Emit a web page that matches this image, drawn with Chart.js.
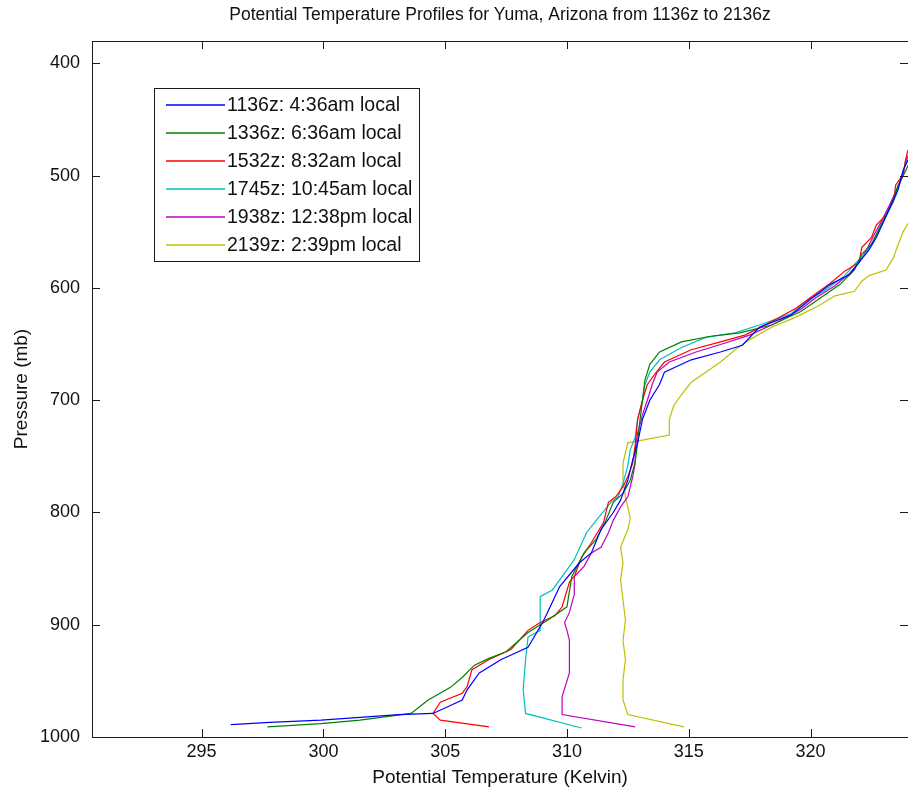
<!DOCTYPE html>
<html>
<head>
<meta charset="utf-8">
<title>Potential Temperature Profiles - Yuma</title>
<script src="https://cdn.jsdelivr.net/npm/chart.js@4.4.1/dist/chart.umd.min.js"></script>
<style>
    html, body { margin: 0; padding: 0; background: #ffffff; }
    #wrap { width: 908px; height: 792px; }
</style>
</head>
<body>
<div id="wrap"><canvas id="profileChart" width="908" height="792"></canvas></div>
<script>
// Soundings: potential temperature (K) vs pressure (mb), surface first
const seriesLabels = [
    '1136z: 4:36am local',
    '1336z: 6:36am local',
    '1532z: 8:32am local',
    '1745z: 10:45am local',
    '1938z: 12:38pm local',
    '2139z: 2:39pm local'
];
const seriesColors = ['#0000ff', '#008000', '#ff0000', '#00bfbf', '#bf00bf', '#bfbf00'];

const theta1136 = [296.2, 297.8, 299.9, 303.1, 304.5, 305.7, 305.9, 306.4, 307.3, 308.4, 309.0, 309.2, 309.7, 310.5, 311.0, 311.4, 311.9, 312.2, 312.5, 312.7, 312.9, 313.1, 313.4, 313.8, 314.0, 315.1, 316.3, 317.2, 317.9, 319.2, 320.0, 320.8, 321.6, 322.0, 322.4, 322.7, 323.0, 323.3, 323.6, 323.8, 324.0];
const pres1136  = [989, 987, 985, 980, 979, 967, 958, 943, 931, 920, 898, 889, 866, 845, 836, 815, 800, 789, 771, 753, 738, 717, 700, 686, 675, 664, 657, 651, 635, 624, 610, 597, 588, 577, 566, 555, 541, 526, 512, 495, 486];

const theta1336 = [297.7, 299.9, 301.5, 303.6, 304.3, 305.2, 305.7, 306.2, 306.8, 307.5, 308.4, 309.2, 310.0, 310.1, 310.2, 310.7, 311.2, 311.6, 311.9, 312.3, 312.6, 312.8, 312.9, 313.0, 313.1, 313.2, 313.4, 313.8, 314.7, 315.9, 317.1, 318.4, 319.6, 320.4, 321.2, 321.8, 322.1, 322.5, 322.8, 323.1, 323.4, 323.6, 323.9, 324.1];
const pres1336  = [991, 988, 985, 979, 967, 956, 947, 936, 930, 924, 907, 896, 884, 870, 857, 836, 824, 807, 791, 783, 771, 755, 738, 717, 700, 682, 668, 657, 648, 643, 640, 633, 621, 609, 597, 584, 570, 561, 548, 535, 521, 508, 496, 486];

const theta1532 = [306.8, 304.8, 304.5, 304.8, 305.7, 305.9, 306.1, 306.8, 307.7, 308.4, 308.9, 309.5, 309.8, 310.1, 310.3, 310.6, 311.0, 311.5, 311.7, 312.0, 312.3, 312.5, 312.7, 312.8, 312.9, 313.1, 313.3, 313.6, 314.0, 315.1, 316.3, 317.3, 318.4, 319.4, 320.1, 320.8, 321.4, 322.0, 322.1, 322.5, 322.7, 323.1, 323.4, 323.5, 323.8, 323.9, 324.0];
const pres1532  = [991, 985, 979, 969, 961, 955, 940, 931, 922, 905, 898, 892, 884, 862, 857, 840, 827, 809, 791, 786, 777, 768, 756, 740, 717, 700, 686, 677, 666, 655, 648, 642, 630, 618, 607, 596, 585, 577, 564, 555, 544, 535, 523, 508, 499, 486, 477];

const theta1745 = [310.6, 308.3, 308.2, 308.3, 308.4, 308.9, 308.9, 309.4, 309.7, 310.3, 310.8, 311.2, 311.8, 312.1, 312.3, 312.5, 312.6, 312.8, 312.9, 313.1, 313.2, 313.4, 313.8, 314.7, 315.7, 316.9, 317.9, 319.2, 319.8, 320.6, 321.4, 321.8, 322.3, 322.6, 322.9, 323.2, 323.5, 323.7, 323.9, 324.0];
const pres1745  = [992, 979, 958, 931, 911, 905, 875, 869, 860, 842, 818, 807, 791, 786, 774, 758, 744, 733, 717, 700, 686, 675, 664, 653, 644, 640, 633, 623, 612, 602, 589, 579, 568, 557, 544, 532, 518, 503, 490, 484];

const theta1938 = [312.8, 309.8, 309.8, 310.1, 310.1, 310.0, 309.9, 310.1, 310.3, 310.3, 310.7, 311.0, 311.4, 311.7, 311.9, 312.2, 312.5, 312.6, 312.7, 312.8, 312.8, 312.9, 313.1, 313.3, 313.5, 313.7, 314.2, 315.3, 316.5, 317.5, 318.6, 319.6, 320.2, 321.0, 321.6, 322.0, 322.3, 322.6, 322.9, 323.2, 323.5, 323.8, 323.9, 324.1];
const pres1938  = [991, 980, 964, 943, 914, 905, 898, 889, 873, 857, 848, 836, 831, 818, 807, 795, 786, 777, 768, 756, 744, 729, 713, 700, 686, 675, 666, 657, 649, 642, 631, 619, 609, 598, 587, 577, 566, 553, 541, 528, 514, 500, 487, 478];

const theta2139 = [314.8, 312.5, 312.3, 312.3, 312.4, 312.3, 312.4, 312.3, 312.2, 312.3, 312.2, 312.5, 312.6, 312.4, 312.3, 312.3, 312.5, 314.2, 314.2, 314.4, 314.7, 315.1, 315.7, 316.3, 316.9, 317.5, 318.4, 319.4, 320.4, 321.0, 321.8, 322.1, 322.4, 323.1, 323.4, 323.6, 323.8, 324.1];
const pres2139  = [991, 980, 967, 949, 931, 914, 896, 878, 860, 845, 831, 815, 805, 786, 771, 756, 738, 731, 717, 704, 695, 684, 675, 666, 655, 646, 635, 626, 615, 607, 603, 594, 589, 584, 573, 561, 550, 539];

const thetaSeries = [theta1136, theta1336, theta1532, theta1745, theta1938, theta2139];
const presSeries = [pres1136, pres1336, pres1532, pres1745, pres1938, pres2139];

const xTicks = [295, 300, 305, 310, 315, 320];
const yTicks = [400, 500, 600, 700, 800, 900, 1000];

const FONT = '"Liberation Sans", Arial, Helvetica, sans-serif';
const TICK_LEN = 8;

// MATLAB style box: frame, inward ticks on all four sides, boxed legend inside the axes
const matlabAxes = {
    id: 'matlabAxes',
    afterDraw(chart) {
        const { ctx, chartArea: a, scales: { x, y } } = chart;
        ctx.save();
        ctx.strokeStyle = '#1a1a1a';
        ctx.lineWidth = 1;
        ctx.strokeRect(a.left + 0.5, a.top + 0.5, a.right - a.left, a.bottom - a.top);

        ctx.beginPath();
        xTicks.forEach(v => {
            const px = Math.round(x.getPixelForValue(v)) + 0.5;
            ctx.moveTo(px, a.bottom); ctx.lineTo(px, a.bottom - TICK_LEN);
            ctx.moveTo(px, a.top); ctx.lineTo(px, a.top + TICK_LEN);
        });
        yTicks.forEach(v => {
            const py = Math.round(y.getPixelForValue(v)) + 0.5;
            ctx.moveTo(a.left, py); ctx.lineTo(a.left + TICK_LEN, py);
            ctx.moveTo(a.right, py); ctx.lineTo(a.right - TICK_LEN, py);
        });
        ctx.stroke();

        // legend
        const box = { left: 154, top: 88, right: 419, bottom: 261 };
        ctx.fillStyle = '#ffffff';
        ctx.fillRect(box.left, box.top, box.right - box.left, box.bottom - box.top);
        ctx.strokeStyle = '#1a1a1a';
        ctx.lineWidth = 1;
        ctx.strokeRect(box.left + 0.5, box.top + 0.5, box.right - box.left, box.bottom - box.top);
        ctx.font = '19.5px ' + FONT;
        ctx.textBaseline = 'middle';
        ctx.textAlign = 'left';
        seriesLabels.forEach((label, i) => {
            const rowY = 105 + i * 28;
            ctx.strokeStyle = seriesColors[i];
            ctx.lineWidth = 1.4;
            ctx.beginPath();
            ctx.moveTo(166, rowY);
            ctx.lineTo(225, rowY);
            ctx.stroke();
            ctx.fillStyle = '#111111';
            ctx.fillText(label, 227, rowY + 1);
        });
        ctx.restore();
    }
};

const datasets = seriesLabels.map((label, i) => ({
    label: label,
    data: thetaSeries[i].map((t, k) => ({ x: t, y: presSeries[i][k] })),
    borderColor: seriesColors[i],
    backgroundColor: seriesColors[i],
    borderWidth: 1.2,
    pointRadius: 0,
    tension: 0,
    fill: false
}));

new Chart(document.getElementById('profileChart'), {
    type: 'line',
    data: { datasets: datasets },
    options: {
        responsive: false,
        animation: false,
        devicePixelRatio: 1,
        layout: { padding: 0 },
        plugins: {
            legend: { display: false },
            tooltip: { enabled: false },
            title: {
                display: true,
                fullSize: false,
                text: 'Potential Temperature Profiles for Yuma, Arizona from 1136z to 2136z',
                color: '#111111',
                font: { family: FONT, size: 17.5, weight: 'normal' },
                padding: { top: 5, bottom: 15 }
            }
        },
        scales: {
            x: {
                type: 'linear',
                position: 'bottom',
                min: 290.5,
                max: 324,
                grid: { display: false, drawTicks: false },
                border: { display: false },
                afterBuildTicks: (scale) => { scale.ticks = xTicks.map(v => ({ value: v })); },
                afterFit: (scale) => { scale.height = 55; },
                ticks: {
                    color: '#111111',
                    padding: 4,
                    maxRotation: 0,
                    font: { family: FONT, size: 18 },
                    callback: (v) => String(v)
                },
                title: {
                    display: true,
                    text: 'Potential Temperature (Kelvin)',
                    color: '#111111',
                    font: { family: FONT, size: 19 },
                    padding: { top: 0, bottom: 3 }
                }
            },
            y: {
                type: 'linear',
                reverse: true,
                min: 380,
                max: 1000,
                grid: { display: false, drawTicks: false },
                border: { display: false },
                afterBuildTicks: (scale) => { scale.ticks = yTicks.map(v => ({ value: v })); },
                afterFit: (scale) => { scale.width = 92; },
                ticks: {
                    color: '#111111',
                    padding: 12,
                    font: { family: FONT, size: 18 },
                    callback: (v) => String(v)
                },
                title: {
                    display: true,
                    text: 'Pressure (mb)',
                    color: '#111111',
                    font: { family: FONT, size: 19 },
                    padding: { top: 10, bottom: 0 }
                }
            }
        }
    },
    plugins: [matlabAxes]
});
</script>
</body>
</html>
